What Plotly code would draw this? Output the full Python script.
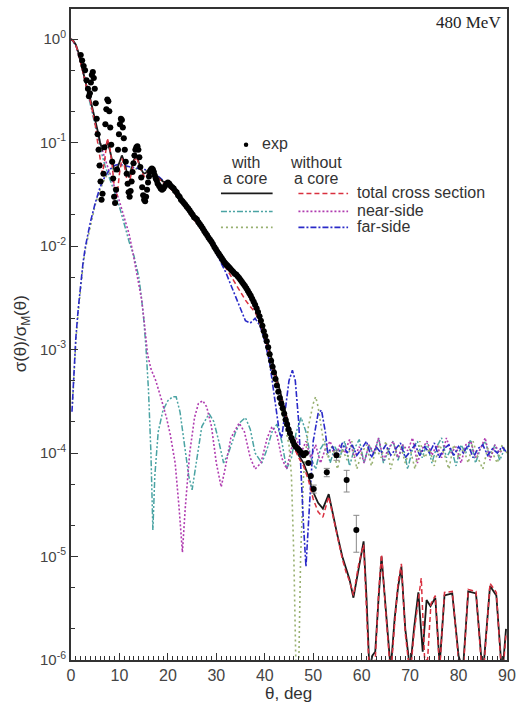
import plotly.graph_objects as go

# ---------------- data ----------------
exp_theta = [2.0,2.3,2.6,2.9,3.2,3.5,3.7,3.9,4.1,4.3,4.5,4.7,4.9,5.1,5.3,5.5,5.7,5.9,6.1,6.3,
             6.5,6.7,6.9,7.1,7.3,7.5,7.7,7.9,8.1,8.3,8.5,8.7,8.9,9.1,9.3,9.5,9.7,9.9,10.1,10.3,
             10.5,10.7,10.9,11.1,11.3,11.5,11.7,11.9,12.1,12.3,12.5,12.7,12.9,13.1,13.3,13.5,13.7,13.9,14.1,14.3,
             14.5,14.7,14.9,15.1,15.3,15.5,15.7,15.9,16.1,16.3,16.5,16.7,16.9,17.1,17.3,17.5,17.7,17.9,18.2,18.5,
             18.8,19.1,19.4,19.7,20.0,20.3,20.6,20.9,21.2,21.5,21.8,22.1,22.4,22.7,23.0,23.3,23.6,23.9,24.2,24.5,
             24.8,25.1,25.4,25.7,26.0,26.3,26.6,26.9,27.2,27.5,27.8,28.1,28.4,28.7,29.0,29.3,29.6,29.9,30.2,30.5,
             30.8,31.1,31.4,31.7,32.0,32.3,32.6,32.9,33.2,33.5,33.8,34.1,34.4,34.7,35.0,35.3,35.6,35.9,36.2,36.5,
             36.8,37.1,37.4,37.7,38.0,38.3,38.6,38.9,39.2,39.5,39.8,40.1,40.4,40.7,41.0,41.3,41.6,41.9,42.2,42.5,
             42.8,43.1,43.4,43.7,44.0,44.3,44.6,44.9,45.2,45.5,45.8,46.1,46.4,46.8,47.2,47.6,48.0,48.5,49.0,49.5,
             50.1,52.8,54.8,56.9,58.9]
exp_val = [0.70,0.62,0.55,0.50,0.40,0.33,0.28,0.30,0.38,0.45,0.48,0.42,0.33,0.24,0.17,0.12,0.085,0.06,0.042,0.028,
           0.032,0.05,0.09,0.15,0.21,0.26,0.25,0.20,0.14,0.095,0.065,0.045,0.03,0.026,0.035,0.055,0.085,0.12,0.15,0.17,
           0.165,0.14,0.11,0.085,0.065,0.05,0.04,0.033,0.03,0.034,0.042,0.052,0.063,0.075,0.085,0.09,0.092,0.085,0.072,0.058,
           0.046,0.037,0.031,0.028,0.027,0.03,0.035,0.041,0.047,0.052,0.055,0.056,0.055,0.052,0.048,0.045,0.043,0.040,0.038,0.036,
           0.035,0.036,0.038,0.040,0.041,0.040,0.038,0.037,0.036,0.034,0.033,0.031,0.030,0.028,0.027,0.026,0.025,0.024,0.023,0.022,
           0.021,0.020,0.019,0.0185,0.018,0.017,0.0162,0.0155,0.0148,0.014,0.0133,0.0127,0.012,0.0115,0.011,0.0104,0.0098,0.0093,0.0088,0.0084,
           0.0080,0.0076,0.0072,0.0069,0.0066,0.0064,0.0062,0.0060,0.0058,0.0056,0.0054,0.0053,0.0051,0.0049,0.0047,0.0045,0.0043,0.0041,0.0039,0.0037,
           0.0035,0.0033,0.0031,0.0029,0.0027,0.0025,0.0023,0.0021,0.0019,0.0017,0.0015,0.00135,0.0012,0.00105,0.0009,0.00078,0.00068,0.0006,0.00052,0.00045,
           0.00039,0.00034,0.0003,0.00027,0.00024,0.00021,0.00019,0.00017,0.000155,0.00014,0.00013,0.00012,0.000115,0.00011,0.000105,0.0001,0.000095,0.0001,0.00008,0.00006,
           0.000045,0.000065,0.000095,0.000055,0.000018]
exp_err = [0]*180 + [0.000004,0.000006,0.00001,0.000013,0.000007]

# with a core: total cross section (black solid)
tot_core_theta = [0,0.5,1,1.5,2,2.5,3,3.5,4,4.5,5,5.5,6,6.5,7,7.5,8,8.5,9,9.5,10,10.5,11,11.5,12,12.5,13,13.5,14,14.5,
                  15,15.5,16,16.5,17,18,19,20,21,22,23,24,25,26,27,28,29,30,31,32,33,34,35,36,37,38,39,40,41,42,
                  43,44,45,46,47,48,49,50,51,52,53.2,54,55,56,56.8,57.5,58.3,59.4,60.4,61,61.6,62.2,62.8,63.5,64.1,65,66,66.8,67.5,68.2,
                  69,70,70.8,71.7,72.6,73.4,74.2,75.2,76.1,77.1,78.7,80,80.9,82,83.6,85,86.5,87.8,89,89.8]
tot_core_val = [1.0,0.96,0.88,0.75,0.6,0.47,0.38,0.31,0.26,0.21,0.17,0.13,0.10,0.085,0.09,0.10,0.085,0.065,0.052,0.055,0.066,0.075,0.065,0.052,0.046,0.055,0.068,0.075,0.065,0.055,
                0.050,0.051,0.055,0.056,0.052,0.046,0.042,0.039,0.035,0.031,0.027,0.023,0.020,0.0175,0.0152,0.013,0.0113,0.0097,0.0083,0.0072,0.0064,0.0056,0.0049,0.0042,0.0035,0.0028,0.0021,0.0015,0.00098,0.00065,
                0.00042,0.00027,0.00018,0.00012,0.000095,0.00008,0.00006,0.000042,0.000033,0.000029,0.00004,0.000026,0.000016,0.00001,0.0000075,0.000006,0.000004,0.000008,0.000014,0.000004,0.0000008,0.0000011,0.0000012,0.000004,0.00001,0.000003,0.0000008,0.0000025,0.000005,0.000008,
                0.000002,0.0000008,0.000002,0.0000045,0.0000012,0.0000038,0.0000033,0.000004,0.0000009,0.0000042,0.0000044,0.0000011,0.0000008,0.0000046,0.0000044,0.0000007,0.0000052,0.0000042,0.0000007,0.000002]

# without a core: total cross section (red dashed)
tot_nocore_theta = [0,0.5,1,1.5,2,2.5,3,3.5,4,4.5,5,5.5,6,6.5,7,7.5,8,8.5,9,9.5,10,10.5,11,11.5,12,12.5,13,13.5,14,14.5,
                    15,15.5,16,16.5,17,18,19,20,21,22,23,24,25,26,27,28,29,30,31,32,33,34,35,36,37,38,39,40,41,42,
                    43,44,45,46,47,48,49,50,51,52,53.2,54,55,56,56.8,57.5,58.3,59.4,60.4,61,61.6,62.2,62.8,63.5,64.1,65,66,66.8,67.5,68.2,
                    69,70,70.8,72.3,73,73.6,74.3,75.2,76.1,77.1,78.7,80,80.9,82,83.6,85,86.5,87.8,89,89.8]
tot_nocore_val = [1.0,0.95,0.87,0.74,0.59,0.46,0.37,0.30,0.25,0.20,0.15,0.10,0.07,0.05,0.07,0.11,0.09,0.06,0.035,0.03,0.05,0.07,0.06,0.045,0.04,0.05,0.066,0.072,0.062,0.052,
                  0.047,0.048,0.053,0.055,0.051,0.045,0.041,0.038,0.034,0.030,0.026,0.022,0.019,0.0168,0.0145,0.0123,0.0105,0.0088,0.0073,0.0062,0.0052,0.0043,0.0036,0.003,0.0026,0.0023,0.0018,0.0013,0.00088,0.00058,
                  0.0004,0.00026,0.00017,0.000115,0.00009,0.000075,0.000055,0.000036,0.000027,0.000024,0.000038,0.000025,0.000015,0.0000095,0.000007,0.0000058,0.0000042,0.0000085,0.000013,0.0000035,0.0000007,0.0000009,0.000001,0.0000045,0.0000105,0.0000028,0.0000007,0.0000022,0.0000055,0.0000085,
                  0.0000018,0.0000007,0.0000018,0.0000062,0.000001,0.000001,0.0000035,0.0000042,0.0000008,0.0000045,0.0000046,0.000001,0.0000007,0.0000048,0.0000046,0.0000006,0.0000055,0.0000045,0.0000006,0.0000018]

# with a core: near-side (teal dash-dot-dot)
near_core_theta = [0,1,2,3,4,5,6,7,8,9,10,11,12,13,13.5,14,14.5,15,15.5,16,16.5,16.9,17.3,18,19,20,21,21.7,22.5,23.5,
                   24.3,25,25.8,27,28.5,29.5,30.5,31.5,32.5,34,35,36,37,38,39.4,40.5,41.5,42.5,43.5,44.5,45.5,46.5,47.5,48.5,49.5,50.5,51.5,52.5,53.5,54.5,
                   55.5,56.5,57.5,58.5,59.5,60.5,61.5,62.5,63.5,64.5,65.5,66.5,67.5,68.5,69.5,70.5,71.5,72.5,73.5,74.5,75.5,76.5,77.5,78.5,79.5,80.5,81.5,82.5,83.5,84.5,
                   85.5,86.5,87.5,88.5,89.5]
near_core_val = [1.0,0.87,0.6,0.37,0.24,0.15,0.09,0.06,0.045,0.033,0.024,0.016,0.011,0.008,0.0065,0.005,0.0033,0.002,0.001,0.0004,0.0001,0.000018,0.00006,0.00016,0.00026,0.00032,0.00035,0.00035,0.00025,0.00012,
                 0.00006,0.000044,0.00008,0.00018,0.00024,0.0002,0.00013,0.00008,0.0001,0.00016,0.0002,0.00022,0.00017,0.0001,0.00008,0.00011,0.00016,0.00019,0.00013,0.00007,0.00009,0.00016,0.00022,0.00016,0.00009,0.00007,0.00011,0.00013,0.00008,0.000115,
                 0.00009,0.00013,0.000075,0.00011,0.000135,0.00008,0.00012,0.000095,0.00014,0.00008,0.000105,0.00013,0.000085,0.00012,0.00007,0.00011,0.00013,0.00009,0.000125,0.00008,0.000115,0.00014,0.00009,0.00011,0.000075,0.00012,0.0001,0.000135,0.00008,0.00011,
                 0.00013,0.00009,0.00012,0.000085,0.00011]

# without a core: near-side (magenta dotted)
near_nocore_theta = [0,1,2,3,4,5,6,7,8,9,10,11,12,12.7,13.5,14,14.6,15.2,15.8,16.5,17.5,18.5,19.7,20.5,21.5,22.3,23,23.6,24.5,25.5,
                     26.3,27.2,28,29,30,31,31.8,33,34.7,35.8,37,38,39.2,40.5,41.5,42.5,43.5,44.5,45.5,46.5,47.5,48.5,49.5,50.5,51.5,52.5,53.5,54.5,55.5,56.5,
                     57.5,58.5,59.5,60.5,61.5,62.5,63.5,64.5,65.5,66.5,67.5,68.5,69.5,70.5,71.5,72.5,73.5,74.5,75.5,76.5,77.5,78.5,79.5,80.5,81.5,82.5,83.5,84.5,85.5,86.5,
                     87.5,88.5,89.5]
near_nocore_val = [1.0,0.87,0.6,0.38,0.25,0.16,0.10,0.07,0.05,0.037,0.027,0.019,0.013,0.009,0.0055,0.004,0.003,0.0017,0.0009,0.00065,0.0005,0.00035,0.00022,0.00015,0.00008,0.00003,0.000011,0.00003,0.0001,0.00022,
                   0.0003,0.00032,0.00028,0.00018,0.00008,0.000047,0.00007,0.00014,0.000195,0.00016,0.00009,0.00007,0.00008,0.00014,0.00018,0.00015,0.00009,0.00007,0.00011,0.00014,0.0001,0.00013,0.00009,0.00012,0.00008,0.00011,0.00013,0.00009,0.00012,0.0001,
                   0.000135,0.00009,0.000115,0.00008,0.00012,0.0001,0.00014,0.000085,0.00011,0.00013,0.00009,0.00012,0.000105,0.00014,0.00008,0.00011,0.00013,0.000095,0.00012,0.00009,0.00014,0.0001,0.000115,0.00008,0.00012,0.00013,0.00009,0.00011,0.00014,0.000085,
                   0.00012,0.0001,0.000115]

# with a core: far-side (green dotted)
far_core_theta = [0.3,0.6,1,1.5,2,2.5,3,4,5,6,7,8,9,10,11,12,13,14,15,16,17,18,20,22,24,26,28,30,32,34,
                  36,38,40,41,42,43,44,45,45.5,46,46.4,46.7,47,47.4,48,49,50,50.5,51,52,53,54,55,56,57,58,59,60,61,62,
                  63,64,65,66,67,68,69,70,71,72,73,74,75,76,77,78,79,80,81,82,83,84,85,86,87,88,89,90]
far_core_val = [0.0003,0.0006,0.0012,0.0023,0.0042,0.0066,0.0095,0.016,0.025,0.035,0.045,0.053,0.058,0.06,0.059,0.057,0.056,0.055,0.054,0.053,0.051,0.046,0.038,0.03,0.022,0.017,0.0126,0.0092,0.0068,0.0052,
                0.004,0.0027,0.0014,0.0009,0.00055,0.00032,0.0002,0.00012,0.00006,0.00001,0.000001,0.0000005,0.0000008,0.00001,0.00006,0.00018,0.0003,0.00035,0.00028,0.00014,0.00009,0.00012,0.00007,0.00011,0.000085,0.00013,0.00007,0.0001,0.00012,0.000075,
                0.00011,0.00009,0.00013,0.00007,0.000105,0.00012,0.00008,0.00011,0.00007,0.00013,0.00009,0.00011,0.000075,0.00012,0.0001,0.00007,0.00012,0.00009,0.00011,0.00008,0.00013,0.00009,0.00007,0.00011,0.0001,0.00008,0.00012,0.0001]

# without a core: far-side (blue dash-dot)
far_nocore_theta = [0.2,0.5,1,1.5,2,2.5,3,4,5,6,7,8,9,10,11,12,13,14,15,16,17,18,20,22,24,26,28,30,31,32,
                    33,34,35,36,37,38,39,40,41,42,43,43.5,44,45,45.7,46.3,47,47.5,48,48.5,49,49.5,50,51,51.7,52.5,53,54,55,56,
                    57,58,59,60,61,62,63,64,65,66,67,68,69,70,71,72,73,74,75,76,77,78,79,80,81,82,83,84,85,86,
                    87,88,89,90]
far_nocore_val = [0.00025,0.0005,0.0013,0.0025,0.0045,0.007,0.01,0.017,0.026,0.037,0.047,0.055,0.06,0.062,0.06,0.058,0.057,0.056,0.055,0.054,0.052,0.047,0.039,0.03,0.022,0.017,0.0125,0.0085,0.0068,0.0055,
                  0.0042,0.0032,0.0024,0.0019,0.0018,0.002,0.0017,0.0012,0.00075,0.00035,0.00016,0.00014,0.00022,0.0005,0.00063,0.0005,0.0002,0.00006,0.00002,0.000008,0.00002,0.00006,0.00013,0.00024,0.00026,0.00016,0.0001,0.000115,0.00009,0.000125,
                  0.0001,0.00012,0.000095,0.00011,0.00013,0.00009,0.000115,0.0001,0.00012,0.000095,0.00011,0.000125,0.00009,0.000105,0.00012,0.000095,0.000115,0.0001,0.000125,0.00009,0.00011,0.00012,0.000095,0.000115,0.0001,0.00012,0.00009,0.00011,0.00012,0.000095,
                  0.00011,0.0001,0.000115,0.0001]

# ---------------- figure ----------------
C_BLACK = "#1a1a1a"
C_RED = "#d9303f"
C_TEAL = "#4aa3a3"
C_MAG = "#b03cb0"
C_GREEN = "#98b070"
C_BLUE = "#2a2ac8"

fig = go.Figure()

def line(x, y, color, dash, width=1.6):
    fig.add_trace(go.Scatter(x=x, y=y, mode="lines",
                             line=dict(color=color, dash=dash, width=width),
                             showlegend=False, hoverinfo="skip"))

line(near_core_theta, near_core_val, C_TEAL, "6px,2px,2px,2px,2px,2px", 1.5)
line(near_nocore_theta, near_nocore_val, C_MAG, "2px,2px", 1.6)
line(far_core_theta, far_core_val, C_GREEN, "2px,3px", 1.6)
line(far_nocore_theta, far_nocore_val, C_BLUE, "6px,2px,2px,2px", 1.6)
line(tot_core_theta, tot_core_val, C_BLACK, "solid", 1.8)
line(tot_nocore_theta, tot_nocore_val, C_RED, "5px,3px", 1.5)

fig.add_trace(go.Scatter(x=exp_theta, y=exp_val, mode="markers",
                         marker=dict(color="black", size=6),
                         error_y=dict(type="data", array=exp_err, visible=True,
                                      color="#888888", thickness=1, width=3),
                         showlegend=False, hoverinfo="skip", cliponaxis=True))

# ---------------- legend (hand-made, as in the original) ----------------
def px_x(px):
    return (px - 71) / 439.0

def px_y(py):
    return (660 - py) / 653.0

FONT = "Liberation Sans, Arial, sans-serif"
shapes = []
ann = []

def leg_line(x0, x1, yy, color, dash, width=1.6):
    shapes.append(dict(type="line", xref="paper", yref="paper",
                       x0=px_x(x0), x1=px_x(x1), y0=px_y(yy), y1=px_y(yy),
                       line=dict(color=color, dash=dash, width=width)))

def text(px, py, s, anchor="center", size=16, font=FONT, color="#333333", angle=0):
    ann.append(dict(xref="paper", yref="paper", x=px_x(px), y=px_y(py), text=s,
                    showarrow=False, xanchor=anchor, yanchor="middle", textangle=angle,
                    font=dict(family=font, size=size, color=color)))

shapes.append(dict(type="circle", xref="paper", yref="paper",
                   x0=px_x(245), x1=px_x(249.5), y0=px_y(145.5), y1=px_y(141),
                   fillcolor="black", line=dict(color="black", width=0)))
text(261, 142, "exp", "left")
text(247, 161, "with")
text(247, 177, "a core")
text(318, 161, "without")
text(318, 177, "a core")
leg_line(222, 274, 192, C_BLACK, "solid", 1.8)
leg_line(300, 350, 192, C_RED, "5px,3px", 1.5)
leg_line(222, 274, 210, C_TEAL, "6px,2px,2px,2px,2px,2px", 1.5)
leg_line(300, 350, 210, C_MAG, "2px,2px", 1.6)
leg_line(222, 274, 226, C_GREEN, "2px,3px", 1.6)
leg_line(300, 350, 226, C_BLUE, "6px,2px,2px,2px", 1.6)
text(357, 191, "total cross section", "left")
text(357, 209, "near-side", "left")
text(357, 225, "far-side", "left")

text(506, 21, "480 MeV", "right", 17, "Liberation Serif, Times New Roman, serif", "#222222")

# axis titles
text(22, 333, "σ(θ)/σ<sub>M</sub>(θ)", "center", 17, angle=-90)
text(290, 694, "θ, deg", "center", 17)

ytickvals = [1e0, 1e-1, 1e-2, 1e-3, 1e-4, 1e-5, 1e-6]
yticktext = ["10<sup>0</sup>", "10<sup>-1</sup>", "10<sup>-2</sup>", "10<sup>-3</sup>",
             "10<sup>-4</sup>", "10<sup>-5</sup>", "10<sup>-6</sup>"]
xtickvals = [0, 10, 20, 30, 40, 50, 60, 70, 80, 90]

fig.update_layout(
    width=523, height=717,
    margin=dict(l=71, r=13, t=7, b=57),
    paper_bgcolor="white", plot_bgcolor="white",
    shapes=shapes, annotations=ann,
    showlegend=False,
    xaxis=dict(range=[0, 90], tickvals=xtickvals, ticks="inside", ticklen=7, tickwidth=1.2,
               tickcolor="#333333", showline=True, linecolor="#333333", linewidth=2, mirror=True,
               showgrid=False, zeroline=False,
               tickfont=dict(family=FONT, size=16, color="#444444"),
               minor=dict(dtick=1, ticks="inside", ticklen=4, tickcolor="#333333", showgrid=False)),
    yaxis=dict(type="log", range=[-6, 0.29], tickvals=ytickvals, ticktext=yticktext,
               ticks="inside", ticklen=7, tickwidth=1.2, tickcolor="#333333",
               showline=True, linecolor="#333333", linewidth=2, mirror=True,
               showgrid=False, zeroline=False,
               tickfont=dict(family=FONT, size=15, color="#444444"),
               minor=dict(ticks="inside", ticklen=4, tickcolor="#333333", showgrid=False)),
)

fig.write_html("out.html", config={"displayModeBar": False},
               post_script="document.body.style.margin='0px';")
